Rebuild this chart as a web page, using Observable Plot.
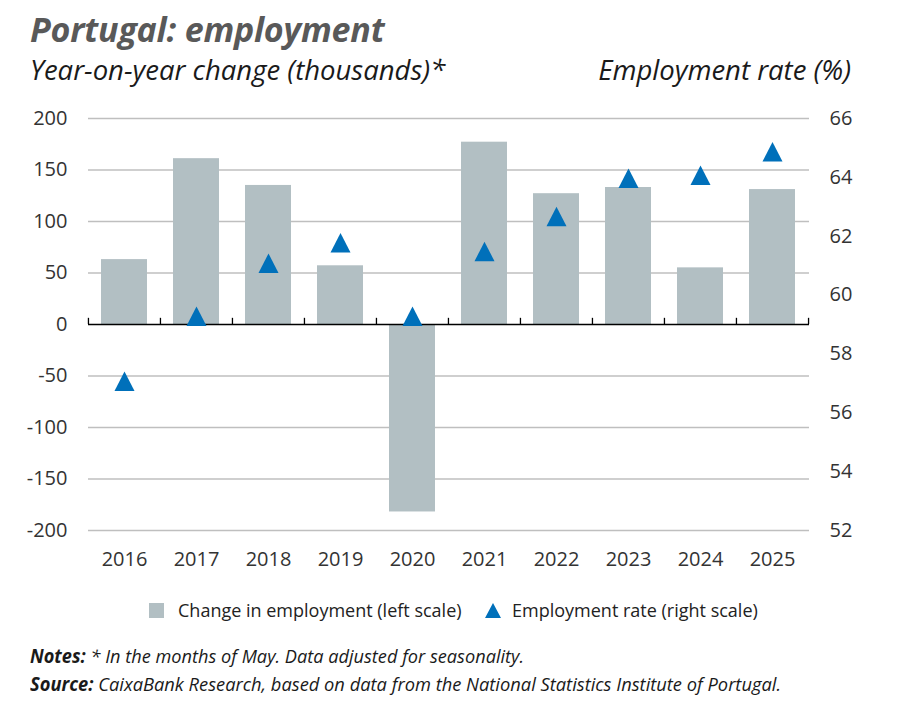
<!DOCTYPE html>
<html><head><meta charset="utf-8">
<script src="https://cdn.jsdelivr.net/npm/d3@7"></script>
<script src="https://cdn.jsdelivr.net/npm/@observablehq/plot@0.6"></script>
<style>
body{margin:0;background:#fff;font-family:"Open Sans",sans-serif;}
#wrap{position:relative;width:900px;height:716px;overflow:hidden;background:#fff;}
.abs{position:absolute;white-space:nowrap;line-height:1;}
#chart{position:absolute;left:0;top:100px;}
.fit{display:inline-block;transform-origin:0 0;}
</style></head><body><div id="wrap">
<div class="abs" style="left:30px;top:12px;font-size:34px;font-weight:700;font-style:italic;color:#595959;letter-spacing:-0.2px;">Portugal: employment</div>
<div class="abs" style="left:30px;top:56px;font-size:27.5px;font-style:italic;color:#1a1a1a;">Year-on-year change (thousands)*</div>
<div class="abs" style="right:49px;top:56px;font-size:27.5px;font-style:italic;color:#1a1a1a;">Employment rate (%)</div>
<div id="chart"></div>
<div class="abs" id="legend" style="left:0;top:600px;width:900px;height:24px;">
  <div class="abs" style="left:149px;top:3px;width:15px;height:15px;background:#b2bfc3;"></div>
  <div class="abs" style="left:178px;top:1px;font-size:18px;color:#222;"><span class="fit" id="lg1">Change in employment (left scale)</span></div>
  <svg class="abs" style="left:485px;top:3px;" width="16" height="16"><path d="M8 0 L16 15 L0 15 Z" fill="#0070ba"/></svg>
  <div class="abs" style="left:512px;top:1px;font-size:18px;color:#222;"><span class="fit" id="lg2">Employment rate (right scale)</span></div>
</div>
<div class="abs" style="left:30px;top:647px;font-size:19px;font-style:italic;color:#1a1a1a;"><span class="fit" id="n1"><b>Notes:</b> * In the months of May. Data adjusted for seasonality.</span></div>
<div class="abs" style="left:30px;top:675px;font-size:19px;font-style:italic;color:#1a1a1a;"><span class="fit" id="n2"><b>Source:</b> CaixaBank Research, based on data from the National Statistics Institute of Portugal.</span></div>
</div>
<script>
const years = ["2016","2017","2018","2019","2020","2021","2022","2023","2024","2025"];
const change = [63, 161, 135, 57, -182, 177, 127, 133, 55, 131];
const rate = [57.07, 59.28, 61.08, 61.78, 59.28, 61.48, 62.67, 63.97, 64.07, 64.87];
const leftTicks = [-200, -150, -100, -50, 0, 50, 100, 150, 200];
const rightTicks = [52, 54, 56, 58, 60, 62, 64, 66];

const data = years.map((year, i) => ({year, change: change[i], rate: rate[i]}));
const toLeft = d3.scaleLinear().domain([52, 66]).range([-200, 200]);

const W = 900, ML = 88, MR = 91;
const step = (W - ML - MR) / years.length;

const tri = {draw(ctx) { ctx.moveTo(0, -9.8); ctx.lineTo(10, 9.7); ctx.lineTo(-10, 9.7); ctx.closePath(); }};

const chart = Plot.plot({
  width: W, height: 480,
  marginTop: 18, marginBottom: 50, marginLeft: ML, marginRight: MR,
  style: {fontFamily: "Open Sans, sans-serif", fontSize: "20px", color: "#333", background: "transparent"},
  x: {domain: years, paddingInner: 0.36, paddingOuter: 0.18},
  y: {domain: [-200, 200]},
  marks: [
    Plot.gridY(leftTicks.filter(d => d !== 0), {stroke: "#bfbfbf", strokeOpacity: 1, strokeWidth: 1.3}),
    Plot.barY(data, {x: "year", y: "change", fill: "#b2bfc3"}),
    Plot.ruleY([0], {stroke: "#000", strokeWidth: 1.5}),
    Plot.ruleX(years, {x: d => d, y1: 0, y2: 6, dx: -step / 2, stroke: "#000", strokeWidth: 1.3}),
    Plot.ruleX(years.slice(-1), {x: d => d, y1: 0, y2: 6, dx: step / 2, stroke: "#000", strokeWidth: 1.3}),
    Plot.dot(data, {x: "year", y: d => toLeft(d.rate), symbol: tri, fill: "#0070ba"}),
    Plot.axisY({ticks: leftTicks, tickSize: 0, tickPadding: 21, tickFormat: d => String(d), fontSize: 20, fill: "#333", label: null}),
    Plot.axisY({anchor: "right", ticks: rightTicks.map(toLeft), tickSize: 0, tickPadding: 20,
      tickFormat: d => String(Math.round(toLeft.invert(d))), fontSize: 20, fill: "#333", label: null}),
    Plot.axisX({tickSize: 0, tickPadding: 21, fontSize: 20, fill: "#333", label: null})
  ]
});
document.getElementById("chart").appendChild(chart);

function fit(id, target) {
  const el = document.getElementById(id);
  const w = el.getBoundingClientRect().width;
  if (w > 0) el.style.transform = `scaleX(${target / w})`;
}
fit("n1", 494);
fit("n2", 751);
</script>
</body></html>
